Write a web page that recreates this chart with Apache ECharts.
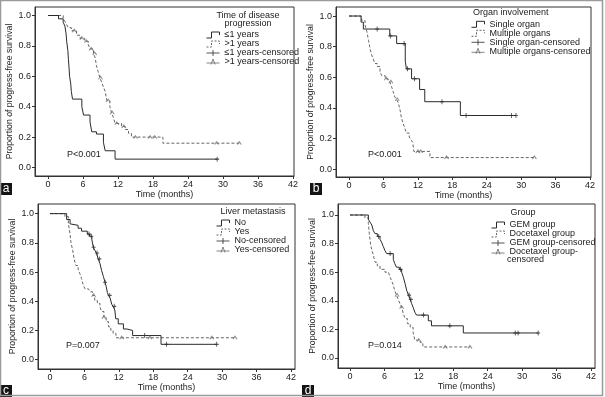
<!DOCTYPE html>
<html><head><meta charset="utf-8">
<script src="https://cdn.jsdelivr.net/npm/echarts@6/dist/echarts.min.js"></script>
<style>html,body{margin:0;padding:0;background:#fff}#c{width:605px;height:397px}</style>
</head><body><div id="c"></div>
<script>
// ---------- tick labels ----------
const xTicks = [0, 6, 12, 18, 24, 30, 36, 42];
const yTicks = [0, 0.2, 0.4, 0.6, 0.8, 1.0];

// ---------- panel a : Time of disease progression ----------
const aNames = ['≤1 years', '>1 years', '≤1 years-censored', '>1 years-censored'];
const aTime1 = [0, 1.8, 2.6, 2.9, 3.1, 3.2, 3.4, 3.5, 3.6, 3.7, 3.9, 4.0, 4.2, 5.8, 6.1, 7.2, 7.5, 8.3, 9.5, 9.8, 11.5, 29.0];
const aSurv1 = [1, 0.978, 0.955, 0.93, 0.88, 0.83, 0.77, 0.71, 0.66, 0.60, 0.55, 0.50, 0.45, 0.40, 0.345, 0.30, 0.235, 0.22, 0.165, 0.11, 0.055, 0.055];
const aCens1 = [29.0];
const aTime2 = [0, 2.6, 2.9, 3.2, 3.5, 4.0, 4.9, 5.5, 6.3, 6.9, 7.2, 7.8, 8.1, 8.3, 8.6, 8.9, 9.2, 9.5, 9.8, 10.1, 10.6, 10.9, 11.2, 11.5, 12.6, 13.2, 13.8, 14.3, 19.7, 32.8];
const aSurv2 = [1, 0.98, 0.96, 0.94, 0.92, 0.90, 0.87, 0.85, 0.83, 0.81, 0.78, 0.75, 0.72, 0.67, 0.63, 0.59, 0.56, 0.53, 0.50, 0.44, 0.40, 0.36, 0.33, 0.29, 0.27, 0.25, 0.225, 0.20, 0.16, 0.16];
const aCens2 = [4.5, 5.8, 6.6, 7.4, 8.0, 9.0, 10.3, 11.0, 11.8, 13.0, 15.0, 17.5, 18.3, 28.9, 32.8];

// ---------- panel b : Organ involvement ----------
const bNames = ['Single organ', 'Multiple organs', 'Single organ-censored', 'Multiple organs-censored'];
const bTime1 = [0, 2.1, 2.5, 7.1, 8.3, 9.8, 10.0, 10.9, 12.3, 13.2, 19.4, 29.1];
const bSurv1 = [1, 0.96, 0.915, 0.87, 0.82, 0.705, 0.655, 0.59, 0.52, 0.44, 0.35, 0.35];
const bCens1 = [4.9, 7.2, 9.6, 10.2, 11.4, 16.2, 20.4, 28.3, 29.1];
const bTime2 = [0, 2.2, 2.8, 3.1, 3.4, 3.6, 3.9, 4.2, 4.5, 4.9, 5.4, 5.7, 6.3, 6.8, 7.1, 7.4, 7.7, 8.0, 8.3, 8.6, 8.9, 9.1, 9.4, 9.7, 10.0, 10.5, 10.8, 11.1, 11.3, 14.1, 32.3];
const bSurv2 = [1, 0.97, 0.94, 0.90, 0.84, 0.80, 0.75, 0.72, 0.69, 0.67, 0.635, 0.61, 0.59, 0.58, 0.57, 0.54, 0.505, 0.47, 0.455, 0.43, 0.385, 0.34, 0.30, 0.27, 0.235, 0.21, 0.19, 0.175, 0.115, 0.075, 0.075];
const bCens2 = [6.5, 7.3, 8.4, 12.0, 12.5, 17.0, 32.3];

// ---------- panel c : Liver metastasis ----------
const cNames = ['No', 'Yes', 'No-censored', 'Yes-censored'];
const cTime1 = [0, 2.9, 3.5, 3.8, 4.9, 5.5, 6.5, 6.9, 7.3, 7.55, 7.8, 8.1, 8.4, 8.7, 9.0, 9.3, 9.6, 9.8, 10.0, 10.2, 10.5, 10.75, 11.0, 11.3, 11.45, 11.9, 12.8, 13.4, 14.4, 19.35, 29.05];
const cSurv1 = [1, 0.96, 0.93, 0.92, 0.90, 0.88, 0.86, 0.845, 0.82, 0.77, 0.75, 0.73, 0.69, 0.66, 0.61, 0.57, 0.53, 0.50, 0.46, 0.44, 0.42, 0.38, 0.365, 0.34, 0.28, 0.245, 0.21, 0.20, 0.165, 0.105, 0.105];
const cCens1 = [6.8, 7.2, 7.6, 8.2, 8.6, 9.6, 10.4, 11.2, 16.5, 20.3, 29.05];
const cTime2 = [0, 2.6, 3.2, 3.5, 3.66, 3.95, 4.2, 4.5, 4.9, 5.2, 5.5, 5.8, 6.1, 6.7, 7.0, 7.4, 7.8, 8.25, 8.7, 9.0, 9.4, 9.8, 10.2, 10.6, 11.0, 11.5, 32.25];
const cSurv2 = [1, 0.98, 0.93, 0.86, 0.80, 0.75, 0.69, 0.645, 0.62, 0.59, 0.555, 0.51, 0.485, 0.48, 0.465, 0.44, 0.405, 0.385, 0.36, 0.33, 0.29, 0.26, 0.225, 0.20, 0.18, 0.15, 0.15];
const cCens2 = [7.6, 9.4, 12.5, 17.4, 28.2, 32.25];

// ---------- panel d : Group ----------
const dNames = ['GEM group', 'Docetaxel group', 'GEM group-censored', 'Docetaxel group-censored'];
const dTime1 = [0, 3.2, 3.5, 3.8, 4.07, 4.36, 4.76, 5.23, 5.5, 5.8, 6.1, 6.4, 7.55, 7.8, 8.1, 8.6, 9.0, 9.3, 9.6, 9.9, 10.2, 10.5, 10.75, 11.0, 11.3, 11.6, 13.65, 14.2, 19.75, 32.8];
const dSurv1 = [1, 0.97, 0.95, 0.93, 0.89, 0.87, 0.85, 0.83, 0.81, 0.78, 0.75, 0.73, 0.69, 0.66, 0.635, 0.62, 0.60, 0.565, 0.52, 0.47, 0.44, 0.41, 0.38, 0.355, 0.32, 0.30, 0.26, 0.225, 0.175, 0.175];
const dCens1 = [5.0, 7.0, 8.8, 10.3, 10.6, 12.8, 17.4, 28.8, 29.3, 32.8];
const dTime2 = [0, 2.6, 3.2, 3.37, 3.6, 3.78, 4.07, 4.36, 4.76, 5.23, 6.1, 6.7, 7.0, 7.26, 7.55, 7.8, 8.1, 8.4, 8.7, 9.0, 9.3, 9.6, 10.0, 10.5, 11.0, 11.3, 12.2, 12.7, 20.9];
const dSurv2 = [1, 0.98, 0.94, 0.87, 0.79, 0.76, 0.72, 0.67, 0.645, 0.62, 0.60, 0.59, 0.565, 0.54, 0.51, 0.47, 0.44, 0.41, 0.38, 0.355, 0.31, 0.275, 0.24, 0.215, 0.18, 0.125, 0.11, 0.077, 0.077];
const dCens2 = [8.2, 9.0, 12.0, 16.6, 20.9];

const legendTitles = ['Time of disease\nprogression', 'Organ involvement', 'Liver metastasis', 'Group'];
const pValues = ['P<0.001', 'P<0.001', 'P=0.007', 'P=0.014'];
const panelLetters = ['a', 'b', 'c', 'd'];
const yTitle = 'Proportion of progress-free survival';
const xTitle = 'Time (months)';

// ---------- layout / style ----------
const FONT = 'Liberation Sans, Arial, sans-serif';
const TXT = '#222';
const AX = '#333';
const panels = [
  { names: aNames, t1: aTime1, s1: aSurv1, c1: aCens1, t2: aTime2, s2: aSurv2, c2: aCens2,
    grid: { left: 35, top: 7, width: 259, height: 169 }, xr: [-2.23, 42.17], yr: [-0.056, 1.056],
    yGap: 18, xGap: 12, leg: [204, 29.5], title: [248, 19.5, 'center'], p: [67, 155], box: [0, 183] },
  { names: bNames, t1: bTime1, s1: bSurv1, c1: bCens1, t2: bTime2, s2: bSurv2, c2: bCens2,
    grid: { left: 336, top: 7, width: 255, height: 170 }, xr: [-2.27, 42.17], yr: [-0.052, 1.059],
    yGap: 18, xGap: 11, leg: [469, 18.8], title: [473, 13, 'left'], p: [368, 155], box: [310, 183] },
  { names: cNames, t1: cTime1, s1: cSurv1, c1: cCens1, t2: cTime2, s2: cSurv2, c2: cCens2,
    grid: { left: 38, top: 204, width: 257, height: 165 }, xr: [-2.09, 42.7], yr: [-0.064, 1.066],
    yGap: 20, xGap: 10, leg: [214, 217.5], title: [253, 212, 'center'], p: [66, 346], box: [0, 385] },
  { names: dNames, t1: dTime1, s1: dSurv1, c1: dCens1, t2: dTime2, s2: dSurv2, c2: dCens2,
    grid: { left: 338, top: 204, width: 257, height: 164 }, xr: [-2.09, 42.7], yr: [-0.07, 1.077],
    yGap: 17.5, xGap: 10.5, leg: [489, 219.5], title: [523, 213, 'center'], p: [368, 346], box: [302, 385] }
];

function pairs(t, s) { return t.map((v, i) => [v, s[i]]); }
function survAt(t, s, x) { let v = s[0]; for (let i = 0; i < t.length; i++) { if (t[i] <= x) v = s[i]; } return v; }
function censPts(t, s, c) { return c.map(x => [x, survAt(t, s, x)]); }

const STEP_ICON = 'path://M0,6L5,6L5,0L13,0L13,3';
const PLUS_ICON = 'path://M0,3L13,3M6.5,0L6.5,6';
const CARET_ICON = 'path://M0,4.5L13,4.5M4.5,6L6.5,0.5L8.5,6';
const PLUS_SYM = 'path://M5,0L5,10M0,5L10,5';
const CARET_SYM = 'path://M0,8L4,0L8,8';

const grids = [], xAxes = [], yAxes = [], series = [], legends = [], graphics = [];
panels.forEach((p, i) => {
  grids.push(Object.assign({ show: true, borderColor: AX, borderWidth: 1, backgroundColor: 'transparent' }, p.grid));
  xAxes.push({
    gridIndex: i, type: 'value', min: p.xr[0], max: p.xr[1],
    axisLine: { show: true, onZero: false, lineStyle: { color: AX, width: 1 } },
    axisTick: { show: true, length: 3, customValues: xTicks, lineStyle: { color: AX } },
    axisLabel: { customValues: xTicks, fontSize: 9, color: TXT, margin: 4, fontFamily: FONT },
    splitLine: { show: false },
    name: xTitle, nameLocation: 'middle', nameGap: p.xGap,
    nameTextStyle: { fontSize: 9, color: TXT, fontFamily: FONT }
  });
  yAxes.push({
    gridIndex: i, type: 'value', min: p.yr[0], max: p.yr[1],
    axisLine: { show: true, onZero: false, lineStyle: { color: AX, width: 1 } },
    axisTick: { show: true, length: 3, customValues: yTicks, lineStyle: { color: AX } },
    axisLabel: { customValues: yTicks, formatter: v => v.toFixed(1), fontSize: 9, color: TXT, margin: 4, fontFamily: FONT },
    splitLine: { show: false },
    name: yTitle, nameLocation: 'middle', nameGap: p.yGap,
    nameTextStyle: { fontSize: 8.7, color: TXT, fontFamily: FONT }
  });
  const base = { xAxisIndex: i, yAxisIndex: i, animation: false, silent: true };
  series.push(Object.assign({ type: 'line', name: p.names[0], data: pairs(p.t1, p.s1), step: 'end', symbol: 'none',
    lineStyle: { color: '#2a2a2a', width: 1 }, z: 3 }, base));
  series.push(Object.assign({ type: 'line', name: p.names[1], data: pairs(p.t2, p.s2), step: 'end', symbol: 'none',
    lineStyle: { color: '#666', width: 1, type: [3, 2] }, z: 2 }, base));
  series.push(Object.assign({ type: 'scatter', name: p.names[2], data: censPts(p.t1, p.s1, p.c1), symbol: PLUS_SYM, symbolSize: [4, 5],
    itemStyle: { color: 'none', borderColor: '#2a2a2a', borderWidth: 1 }, z: 4 }, base));
  series.push(Object.assign({ type: 'scatter', name: p.names[3], data: censPts(p.t2, p.s2, p.c2), symbol: CARET_SYM, symbolSize: [4, 3],
    itemStyle: { color: 'none', borderColor: '#777', borderWidth: 1 }, z: 4 }, base));
  legends.push({
    orient: 'vertical', left: p.leg[0], top: p.leg[1], padding: 0, itemGap: -2, itemWidth: 13, itemHeight: 6,
    selectedMode: false,
    textStyle: { fontSize: 9, lineHeight: 9, color: TXT, fontFamily: FONT },
    formatter: n => (n === 'Docetaxel group-censored' ? 'Docetaxel group-' : n),
    data: [
      { name: p.names[0], icon: STEP_ICON, itemStyle: { color: 'none', borderColor: '#2a2a2a', borderWidth: 1 } },
      { name: p.names[1], icon: STEP_ICON, itemStyle: { color: 'none', borderColor: '#666', borderWidth: 1, borderType: [2, 1.5] } },
      { name: p.names[2], icon: PLUS_ICON, itemStyle: { color: 'none', borderColor: '#2a2a2a', borderWidth: 1 } },
      { name: p.names[3], icon: CARET_ICON, itemStyle: { color: 'none', borderColor: '#666', borderWidth: 1 } }
    ]
  });
  graphics.push({ type: 'text', x: p.title[0], y: p.title[1], silent: true,
    style: { text: legendTitles[i], font: '9px ' + FONT, fill: TXT, align: p.title[2], textAlign: p.title[2],
      verticalAlign: 'middle', textVerticalAlign: 'middle', lineHeight: 8 } });
  graphics.push({ type: 'text', x: p.p[0], y: p.p[1], silent: true,
    style: { text: pValues[i], font: '9px ' + FONT, fill: TXT, align: 'left', textAlign: 'left', verticalAlign: 'middle', textVerticalAlign: 'middle' } });
  graphics.push({ type: 'rect', silent: true, shape: { x: p.box[0], y: p.box[1], width: 12, height: 12 }, style: { fill: '#141414' } });
  graphics.push({ type: 'text', x: p.box[0] + 6, y: p.box[1] + 6, silent: true,
    style: { text: panelLetters[i], font: '12px ' + FONT, fill: '#fff', align: 'center', textAlign: 'center', verticalAlign: 'middle', textVerticalAlign: 'middle' } });
});
// second line of the wrapped legend entry in panel d
graphics.push({ type: 'text', x: 507, y: 260, silent: true,
  style: { text: 'censored', font: '9px ' + FONT, fill: TXT, align: 'left', textAlign: 'left', verticalAlign: 'middle', textVerticalAlign: 'middle' } });
// outer frame
graphics.push({ type: 'rect', silent: true, shape: { x: 0.5, y: 0.5, width: 602, height: 395 }, style: { fill: 'none', stroke: '#9a9a9a', lineWidth: 1.5 } });

const chart = echarts.init(document.getElementById('c'), null, { renderer: 'canvas' });
chart.setOption({
  backgroundColor: '#fff',
  animation: false,
  grid: grids, xAxis: xAxes, yAxis: yAxes, series: series, legend: legends, graphic: graphics
});
</script></body></html>
